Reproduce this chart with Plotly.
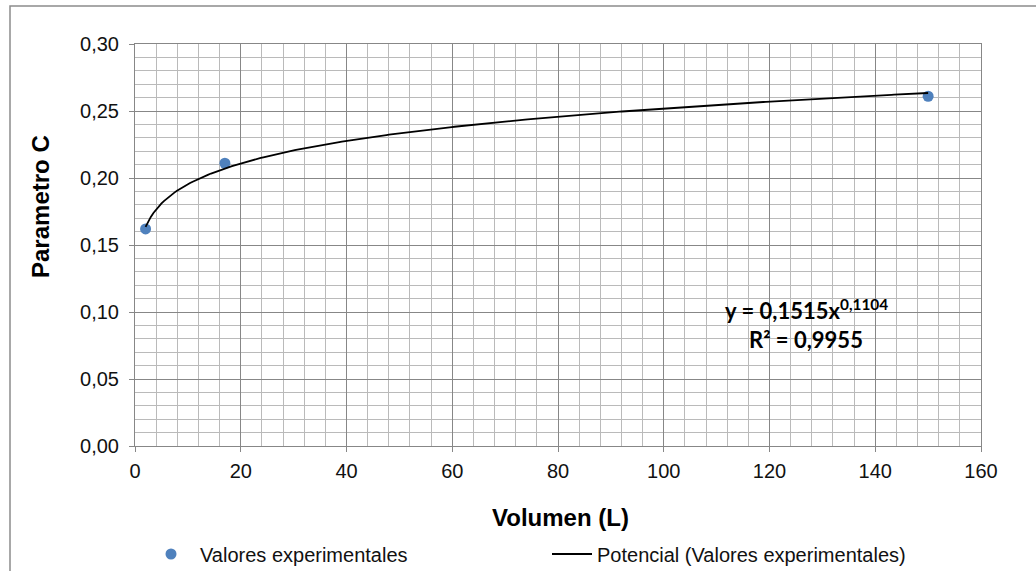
import numpy as np
import plotly.graph_objects as go

# ---- data ----
volumen = [2, 17, 150]
parametro_c = [0.162, 0.211, 0.261]
trend_a = 0.1515          # coefficient shown on the chart
trend_b = 0.1104          # exponent shown on the chart
r2_text = "0,9955"
x_ticks = [0, 20, 40, 60, 80, 100, 120, 140, 160]
y_ticks = [0.00, 0.05, 0.10, 0.15, 0.20, 0.25, 0.30]

# power trend line (Excel "Potencial") over the data span
xt = np.linspace(min(volumen), max(volumen), 300)
yt = trend_a * xt ** trend_b

FONT = "Liberation Sans, Arial, sans-serif"
MAJOR = "#878787"
MINOR = "#bababa"

fig = go.Figure()
fig.add_trace(go.Scatter(
    x=volumen, y=parametro_c, mode="markers", name="Valores experimentales",
    marker=dict(color="#4f81bd", size=11), legend="legend", hoverinfo="x+y"))
fig.add_trace(go.Scatter(
    x=xt, y=yt, mode="lines", name="Potencial (Valores experimentales)",
    line=dict(color="black", width=1.8), legend="legend2"))

axis_common = dict(
    showgrid=True, gridcolor=MAJOR, gridwidth=1,
    showline=True, linecolor=MAJOR, linewidth=1, mirror=True,
    ticks="outside", ticklen=5, tickcolor=MAJOR, tickwidth=1,
    zeroline=False, tickfont=dict(family=FONT, size=20, color="#111"),
    automargin=False,
)
fig.update_xaxes(range=[0, 160], tickvals=x_ticks, ticklabelstandoff=2,
                 minor=dict(dtick=4, tick0=0, showgrid=True, gridcolor=MINOR, gridwidth=1),
                 **axis_common)
fig.update_yaxes(range=[0, 0.30], tickvals=y_ticks, tickformat=".2f", ticklabelstandoff=6,
                 minor=dict(dtick=0.01, tick0=0, showgrid=True, gridcolor=MINOR, gridwidth=1),
                 **axis_common)

L, R, T, B = 135, 55, 44, 125
W, H = 1036, 571
pw, ph = W - L - R, H - T - B

def px(x):
    return (x - L) / pw

def py(y):
    return (H - B - y) / ph

annotations = [
    dict(text="<b>Volumen (L)</b>", x=px(560), y=py(517), xref="paper", yref="paper",
         showarrow=False, font=dict(family=FONT, size=24, color="black"),
         xanchor="center", yanchor="middle"),
    dict(text="<b>Parametro C</b>", x=px(40), y=py(207), xref="paper", yref="paper",
         showarrow=False, textangle=-90, font=dict(family=FONT, size=24, color="black"),
         xanchor="center", yanchor="middle"),
    dict(text="<b>y = 0,1515x<sup>0,1104</sup></b>", x=px(806), y=py(309), xref="paper", yref="paper",
         showarrow=False, font=dict(family="Lato, sans-serif", size=22, color="black"),
         xanchor="center", yanchor="middle"),
    dict(text="<b>R² = " + r2_text + "</b>", x=px(806), y=py(339), xref="paper", yref="paper",
         showarrow=False, font=dict(family="Lato, sans-serif", size=22, color="black"),
         xanchor="center", yanchor="middle"),
]

shapes = [
    dict(type="rect", xref="paper", yref="paper", x0=px(10), y0=py(6), x1=px(1060), y1=py(600),
         line=dict(color="#8c8c8c", width=1.5), fillcolor="rgba(0,0,0,0)", layer="below"),
]

legend_font = dict(family=FONT, size=20, color="#111")
fig.update_layout(
    width=W, height=H,
    margin=dict(l=L, r=R, t=T, b=B, autoexpand=False),
    paper_bgcolor="white", plot_bgcolor="white",
    separators=",.",
    annotations=annotations, shapes=shapes,
    showlegend=True,
    legend=dict(xref="container", yref="container", x=(171 - 29) / W, y=1 - 554 / H,
                xanchor="left", yanchor="middle", font=legend_font, itemwidth=48,
                bgcolor="rgba(0,0,0,0)"),
    legend2=dict(xref="container", yref="container", x=547 / W, y=1 - 554 / H,
                 xanchor="left", yanchor="middle", font=legend_font, itemwidth=40,
                 bgcolor="rgba(0,0,0,0)"),
)

fig.write_html("out.html")
